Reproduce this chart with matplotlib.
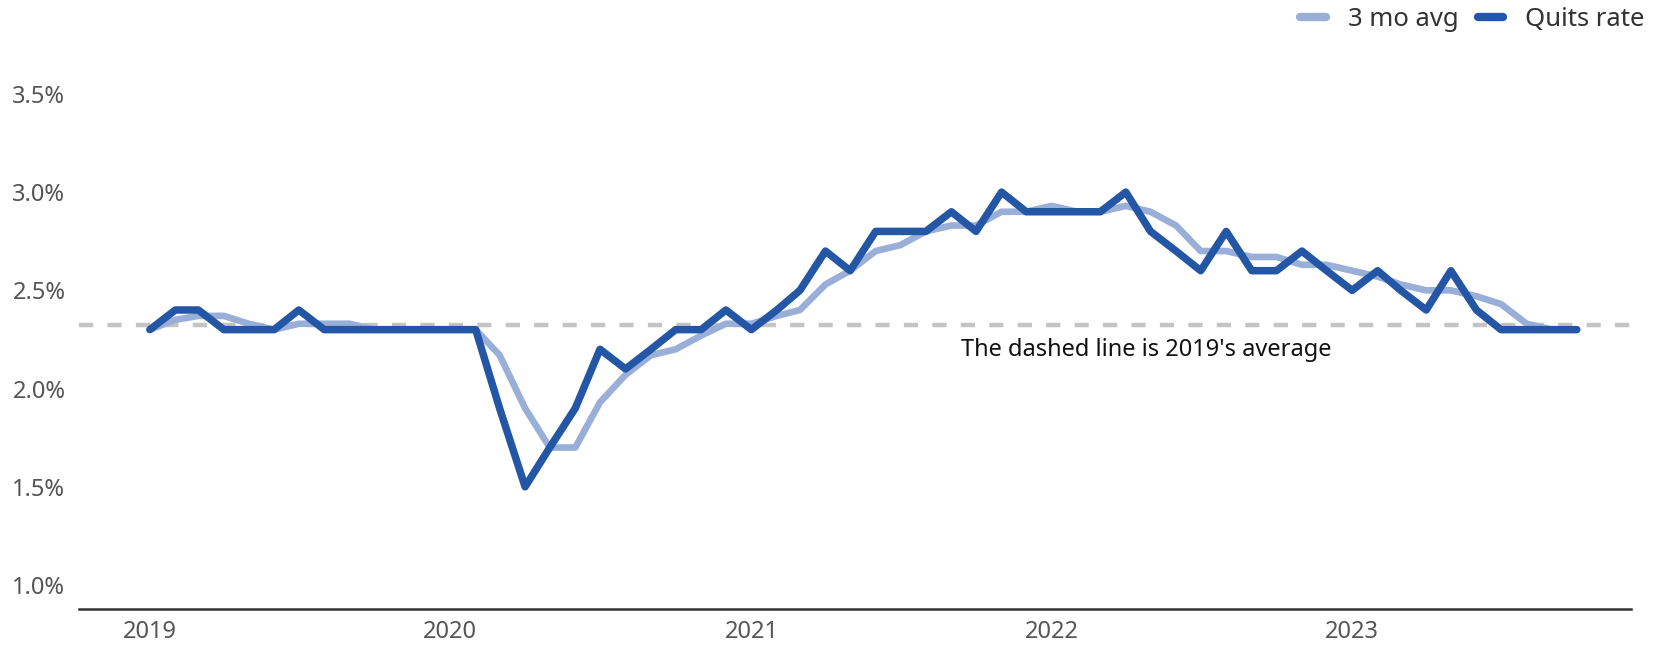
import pandas as pd
import matplotlib.pyplot as plt
import matplotlib.dates as mdates
from matplotlib.ticker import FuncFormatter

plt.rcParams["font.family"] = ["Noto Sans", "DejaVu Sans"]

# monthly JOLTS quits rate, Jan 2019 - Oct 2023 (percent)
months = pd.date_range("2019-01-01", "2023-10-01", freq="MS")
quits_rate = [
    2.3, 2.4, 2.4, 2.3, 2.3, 2.3, 2.4, 2.3, 2.3, 2.3, 2.3, 2.3,
    2.3, 2.3, 1.9, 1.5, 1.7, 1.9, 2.2, 2.1, 2.2, 2.3, 2.3, 2.4,
    2.3, 2.4, 2.5, 2.7, 2.6, 2.8, 2.8, 2.8, 2.9, 2.8, 3.0, 2.9,
    2.9, 2.9, 2.9, 3.0, 2.8, 2.7, 2.6, 2.8, 2.6, 2.6, 2.7, 2.6,
    2.5, 2.6, 2.5, 2.4, 2.6, 2.4, 2.3, 2.3, 2.3, 2.3,
]
avg_3mo = [
    2.30, 2.35, 2.37, 2.37, 2.33, 2.30, 2.33, 2.33, 2.33, 2.30, 2.30, 2.30,
    2.30, 2.30, 2.17, 1.90, 1.70, 1.70, 1.93, 2.07, 2.17, 2.20, 2.27, 2.33,
    2.33, 2.37, 2.40, 2.53, 2.60, 2.70, 2.73, 2.80, 2.83, 2.83, 2.90, 2.90,
    2.93, 2.90, 2.90, 2.93, 2.90, 2.83, 2.70, 2.70, 2.67, 2.67, 2.63, 2.63,
    2.60, 2.57, 2.53, 2.50, 2.50, 2.47, 2.43, 2.33, 2.30, 2.30,
]
avg_2019 = 2.325
years = ["2019", "2020", "2021", "2022", "2023"]

dark_blue = "#2456a6"
light_blue = "#9aafd8"
tick_grey = "#555555"

fig = plt.figure(figsize=(16.61, 6.49), dpi=100)
ax = fig.add_axes([0.0476, 0.0616, 0.9344, 0.877])

ax.axhline(avg_2019, color="#c4c4c4", lw=3.2, dashes=(3.2, 3.2), zorder=1)
l_avg, = ax.plot(months, avg_3mo, color=light_blue, lw=4.8,
                 solid_capstyle="round", solid_joinstyle="round", label="3 mo avg", zorder=2)
l_q, = ax.plot(months, quits_rate, color=dark_blue, lw=5.4,
               solid_capstyle="round", solid_joinstyle="round", label="Quits rate", zorder=3)

ax.text(pd.Timestamp("2021-09-13"), 2.197, "The dashed line is 2019's average",
        fontsize=17, color="#111111", va="center", ha="left")

ax.set_xlim(pd.Timestamp("2018-10-07"), pd.Timestamp("2023-12-06"))
ax.set_ylim(0.878, 3.775)
ax.set_yticks([1.0, 1.5, 2.0, 2.5, 3.0, 3.5])
ax.yaxis.set_major_formatter(FuncFormatter(lambda v, _: f"{v:.1f}%"))
ax.set_xticks([pd.Timestamp(f"{y}-01-01") for y in years])
ax.xaxis.set_major_formatter(mdates.DateFormatter("%Y"))

ax.tick_params(axis="both", length=0, labelsize=17, labelcolor=tick_grey)
ax.tick_params(axis="x", pad=8)
for lbl in ax.get_yticklabels():
    lbl.set_horizontalalignment("left")
ax.yaxis.set_tick_params(pad=48)

for side in ["top", "right", "left"]:
    ax.spines[side].set_visible(False)
ax.spines["bottom"].set_color("#333333")
ax.spines["bottom"].set_linewidth(1.8)

leg = fig.legend(handles=[l_avg, l_q], loc="upper right", bbox_to_anchor=(0.9925, 0.995),
                 ncol=2, frameon=False, fontsize=18.5, handlelength=1.0,
                 borderaxespad=0, borderpad=0.15,
                 columnspacing=0.75, handletextpad=0.85, labelcolor="#333333")
for h in leg.legend_handles:
    h.set_linewidth(6)
    h.set_solid_capstyle("round")

fig.savefig("out.png", dpi=100)
